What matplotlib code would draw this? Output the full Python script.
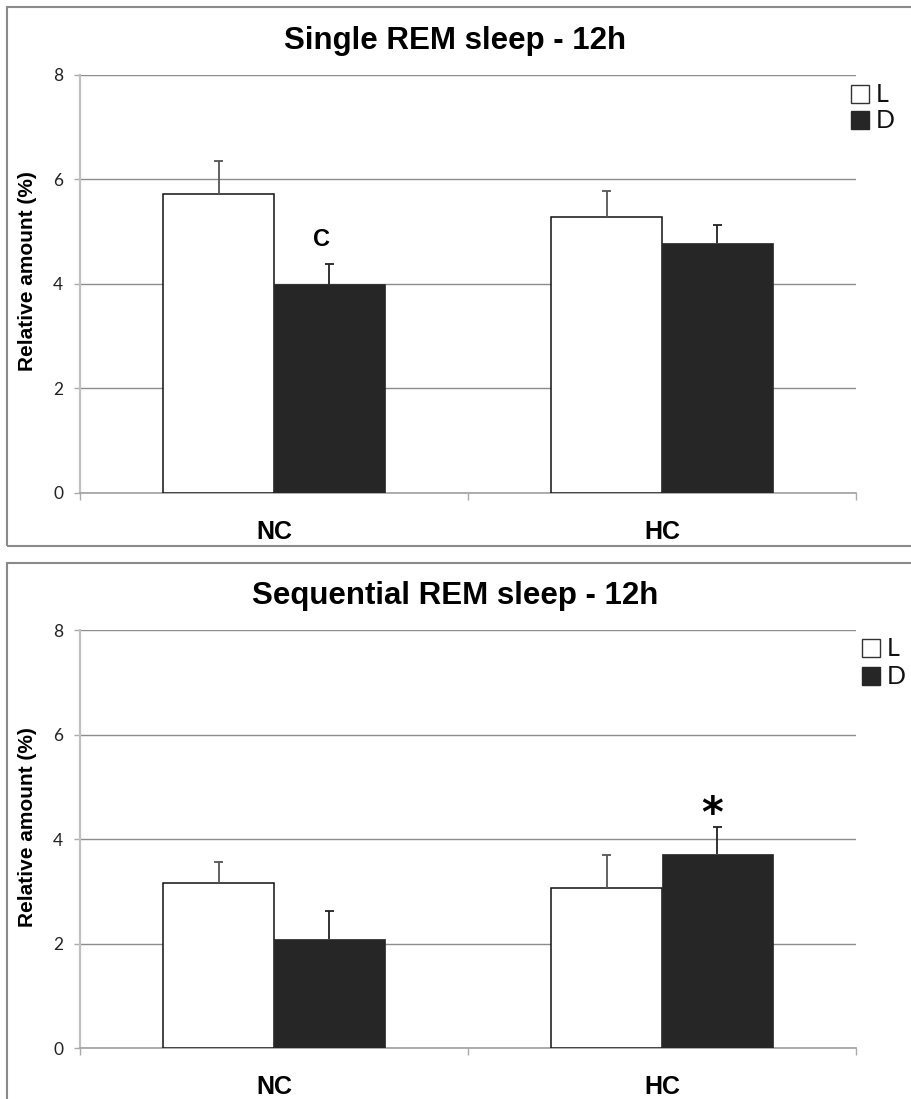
import matplotlib
matplotlib.use("Agg")
import matplotlib.pyplot as plt
import matplotlib.transforms as mtransforms
from matplotlib.patches import Rectangle
import numpy as np

# ---- data ----
categories = ["NC", "HC"]
series_names = ["L", "D"]
single_L = [5.72, 5.27]
single_L_err = [0.63, 0.50]
single_D = [4.00, 4.78]
single_D_err = [0.38, 0.34]
seq_L = [3.17, 3.07]
seq_L_err = [0.39, 0.62]
seq_D = [2.10, 3.71]
seq_D_err = [0.52, 0.53]
yticks = [0, 2, 4, 6, 8]
titles = ["Single REM sleep - 12h", "Sequential REM sleep - 12h"]
ylabel = "Relative amount (%)"

W, H = 911, 1099
fig = plt.figure(figsize=(W / 100, H / 100), dpi=100)

def fx(px):
    return px / W

def fy(py):
    return 1 - py / H

BOLD = "Liberation Sans"
LIGHT = "Lato"

panels = [
    dict(frame_top=7.3, frame_bot=545.7, y8=74.7, y0=492.7, title_y=41,
         Lvals=single_L, Lerr=single_L_err, Dvals=single_D, Derr=single_D_err,
         leg_x=851, leg_yL=94, leg_yD=120),
    dict(frame_top=563, frame_bot=1120, y8=630.3, y0=1048.3, title_y=596,
         Lvals=seq_L, Lerr=seq_L_err, Dvals=seq_D, Derr=seq_D_err,
         leg_x=862, leg_yL=648, leg_yD=676),
]

ax_left, ax_right = 80, 856
bw = 0.286
capw = 0.024
xc = np.array([0.5, 1.5])

def err_up(ax, x, v, e, color):
    v = np.asarray(v); e = np.asarray(e)
    ax.vlines(x, v, v + e, colors=color, linewidth=1.3, zorder=4)
    ax.hlines(v + e, x - capw / 2, x + capw / 2, colors=color, linewidth=1.3, zorder=4)

axes = []
for k, p in enumerate(panels):
    fig.patches.append(Rectangle((fx(7), fy(p["frame_bot"])), fx(930 - 7),
                                 fy(p["frame_top"]) - fy(p["frame_bot"]),
                                 transform=fig.transFigure, fill=False,
                                 edgecolor="#8a8a8a", linewidth=1.5, zorder=0))
    ax = fig.add_axes([fx(ax_left), fy(p["y0"]), fx(ax_right - ax_left),
                       (p["y0"] - p["y8"]) / H])
    axes.append(ax)
    ax.set_xlim(0, 2)
    ax.set_ylim(0, 8)
    ax.set_yticks(yticks)
    ax.set_yticklabels([str(t) for t in yticks], fontfamily=LIGHT, fontsize=12.5,
                       color="#222222")
    ax.set_xticks([0, 1, 2])
    ax.set_xticklabels([])
    ax.tick_params(axis="y", length=4, width=1, color="#aaaaaa", pad=8)
    ax.tick_params(axis="x", length=5, width=1, color="#aaaaaa")
    for s in ["top", "right"]:
        ax.spines[s].set_visible(False)
    ax.spines["left"].set_color("#c0c0c0")
    ax.spines["left"].set_linewidth(1.6)
    ax.spines["bottom"].set_color("#a0a0a0")
    ax.spines["bottom"].set_linewidth(1.2)
    ax.set_axisbelow(True)
    ax.yaxis.grid(True, color="#8c8c8c", linewidth=1)

    ax.bar(xc - bw / 2, p["Lvals"], width=bw, color="white", edgecolor="#111111",
           linewidth=1.1, zorder=3)
    ax.bar(xc + bw / 2, p["Dvals"], width=bw, color="#262626", edgecolor="#262626",
           linewidth=0.5, zorder=3)
    err_up(ax, xc - bw / 2, p["Lvals"], p["Lerr"], "#555555")
    err_up(ax, xc + bw / 2, p["Dvals"], p["Derr"], "#222222")

    ax.set_ylabel(ylabel, fontfamily=BOLD, fontweight="bold", fontsize=15)
    ax.yaxis.set_label_coords((37 - ax_left) / (ax_right - ax_left), 0.53)

    tr = mtransforms.blended_transform_factory(ax.transData, fig.transFigure)
    for i, c in enumerate(categories):
        ax.text(xc[i], fy(p["y0"] + 39), c, transform=tr, ha="center",
                va="center", fontfamily=BOLD, fontweight="bold", fontsize=18)

    fig.text(0.5, fy(p["title_y"]), titles[k], ha="center",
             va="center", fontfamily=BOLD, fontweight="bold", fontsize=22.5)

    sq = 18
    for name, yy, fc in [("L", p["leg_yL"], "white"), ("D", p["leg_yD"], "#262626")]:
        fig.patches.append(Rectangle((fx(p["leg_x"]), fy(yy + sq / 2)), fx(sq),
                                     sq / H, transform=fig.transFigure,
                                     facecolor=fc,
                                     edgecolor="#333333" if fc == "white" else "#262626",
                                     linewidth=1))
        fig.text(fx(p["leg_x"] + sq + 7), fy(yy), name, ha="left", va="center",
                 fontfamily=LIGHT, fontsize=18, color="#111111")

# annotations
tr0 = mtransforms.blended_transform_factory(axes[0].transData, fig.transFigure)
axes[0].annotate("C", xy=(xc[0] + bw / 2, fy(240)), xycoords=tr0,
                 xytext=(-6, 0), textcoords="offset points",
                 ha="center", va="center", fontfamily=BOLD, fontweight="bold",
                 fontsize=17)
tr1 = mtransforms.blended_transform_factory(axes[1].transData, fig.transFigure)
axes[1].annotate("*", xy=(xc[1] + bw / 2, fy(815)), xycoords=tr1,
                 xytext=(-4, 0), textcoords="offset points",
                 ha="center", va="center", fontfamily="DejaVu Sans",
                 fontweight="bold", fontsize=30)

fig.savefig("out.png", dpi=100)
